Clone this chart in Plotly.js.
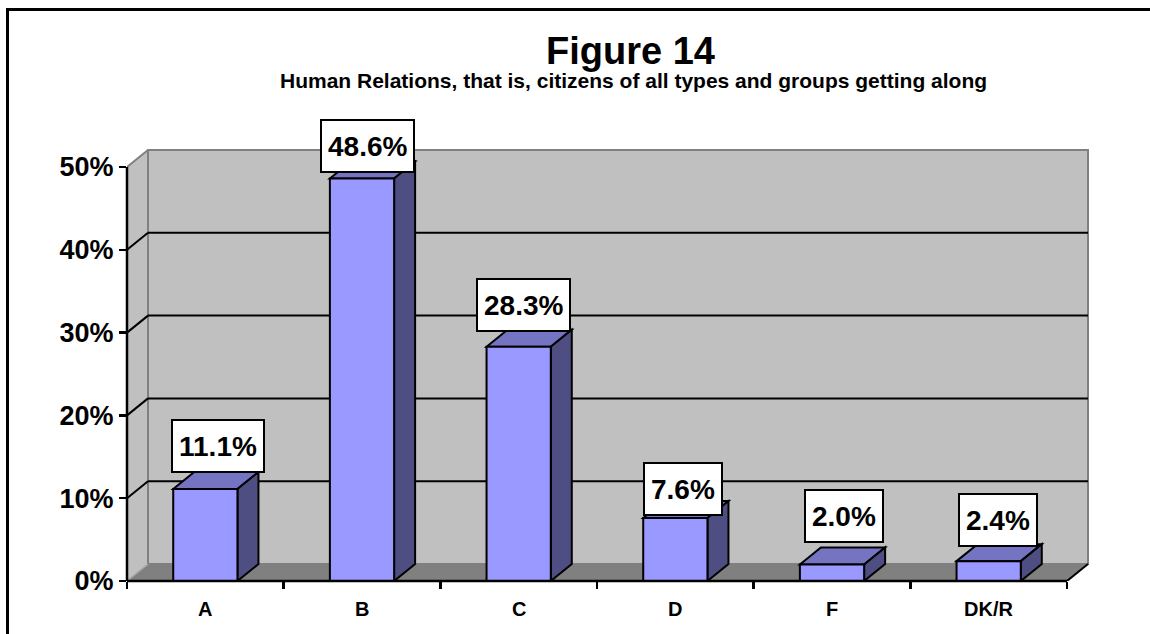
<!DOCTYPE html>
<html>
<head>
<meta charset="utf-8">
<script src="https://cdn.plot.ly/plotly-3.0.1.min.js"></script>
<style>
  html, body { margin: 0; padding: 0; background: #ffffff; overflow: hidden; }
  #wrap { position: relative; width: 1150px; height: 634px; overflow: hidden; }
  #chart { position: absolute; left: 0; top: 0; width: 1150px; height: 634px; }
  /* outer frame of the figure; its right and bottom edges lie past the page */
  #frame { position: absolute; left: 6px; top: 7.5px; width: 1400px; height: 900px;
           border-left: 3px solid #000; border-top: 3px solid #000; pointer-events: none; }
</style>
</head>
<body>
<div id="wrap">
  <div id="chart"></div>
  <div id="frame"></div>
</div>
<script>
// Grades given for human relations among citizens of all types and groups
const categories = ['A', 'B', 'C', 'D', 'F', 'DK/R'];
const shares = [11.1, 48.6, 28.3, 7.6, 2.0, 2.4];
const percentTicks = [0, 10, 20, 30, 40, 50];

// Pixel nudges (right, up) of each value box from the top front edge of its bar
const labelShiftX = [13, 5, 5, 8, 12, 9];
const labelShiftY = [16, 6, 15, 2, 21, 14];

// ---- page geometry (pixels) ----
const W = 1150, H = 634;
const ORIGIN = { x: 127, y: 581 };          // front-left corner of the floor
const PX_PER_CAT = 156.7, PX_PER_PCT = 8.28;
const DEPTH_PX = { x: 21, y: 17 };          // oblique depth of walls and bars
const PAD = 4;

const FONT = 'Liberation Sans, Arial, Helvetica, sans-serif';
const WALL = '#c0c0c0', FLOOR = '#808080', EDGE = '#808080';
const BAR_FRONT = '#9999ff', BAR_TOP = '#7474c2', BAR_SIDE = '#4e4e82';

const n = categories.length;
const yMax = percentTicks[percentTicks.length - 1];
const dx = DEPTH_PX.x / PX_PER_CAT;
const dy = DEPTH_PX.y / PX_PER_PCT;
const barWidth = 0.41;

const xRange = [-0.5, n - 0.5 + dx + PAD / PX_PER_CAT];
const yRange = [0, yMax + dy + PAD / PX_PER_PCT];
const plotW = (xRange[1] - xRange[0]) * PX_PER_CAT;
const plotH = (yRange[1] - yRange[0]) * PX_PER_PCT;
const margin = { l: ORIGIN.x, b: H - ORIGIN.y, pad: 0 };
margin.r = W - margin.l - plotW;
margin.t = H - margin.b - plotH;

const paperX = px => (px - margin.l) / plotW;
const paperY = py => (H - margin.b - py) / plotH;
const path = pts => 'M' + pts.map(p => p[0] + ',' + p[1]).join('L') + 'Z';

const xL = -0.5, xR = n - 0.5;
const shapes = [];
const below = s => shapes.push(Object.assign({ layer: 'below', xref: 'x', yref: 'y' }, s));

// side wall, back wall and floor
below({ type: 'path', path: path([[xL, 0], [xL, yMax], [xL + dx, yMax + dy], [xL + dx, dy]]),
        fillcolor: WALL, line: { width: 0 } });
below({ type: 'rect', x0: xL + dx, x1: xR + dx, y0: dy, y1: yMax + dy,
        fillcolor: WALL, line: { color: EDGE, width: 2 } });
below({ type: 'path', path: path([[xL, 0], [xR, 0], [xR + dx, dy], [xL + dx, dy]]),
        fillcolor: FLOOR, line: { width: 0 } });

// gridlines across the back wall and down the side wall
percentTicks.slice(1, -1).forEach(v => {
  below({ type: 'line', x0: xL + dx, x1: xR + dx, y0: v + dy, y1: v + dy, line: { color: '#000', width: 2 } });
  below({ type: 'line', x0: xL, x1: xL + dx, y0: v, y1: v + dy, line: { color: '#000', width: 2 } });
});
below({ type: 'line', x0: xL, x1: xL + dx, y0: yMax, y1: yMax + dy, line: { color: EDGE, width: 2 } });
below({ type: 'line', x0: xL, x1: xL + dx, y0: 0, y1: dy, line: { color: '#a8a8a8', width: 1.5 } });
below({ type: 'line', x0: xR, x1: xR + dx, y0: 0, y1: dy, line: { color: '#000', width: 2 } });

// top and side faces of each bar
shares.forEach((v, i) => {
  const a = i - barWidth / 2, b = i + barWidth / 2;
  below({ type: 'path', path: path([[a, v], [a + dx, v + dy], [b + dx, v + dy], [b, v]]),
          fillcolor: BAR_TOP, line: { color: '#000', width: 2 } });
  below({ type: 'path', path: path([[b, 0], [b + dx, dy], [b + dx, v + dy], [b, v]]),
          fillcolor: BAR_SIDE, line: { color: '#000', width: 2 } });
});

// front axis lines
shapes.push({ type: 'line', layer: 'above', xref: 'x', yref: 'paper', x0: xL, x1: xR, y0: 0, y1: 0,
              line: { color: '#000', width: 2.5 } });
shapes.push({ type: 'line', layer: 'above', xref: 'paper', yref: 'y', x0: 0, x1: 0, y0: 0, y1: yMax,
              line: { color: '#000', width: 2.5 } });

const annotations = [];

// titles
annotations.push({ xref: 'paper', yref: 'paper', x: paperX(631), y: paperY(51),
  xanchor: 'center', yanchor: 'middle', showarrow: false, text: 'Figure 14',
  font: { family: FONT, size: 38, weight: 'bold', color: '#000' } });
annotations.push({ xref: 'paper', yref: 'paper', x: paperX(634), y: paperY(81),
  xanchor: 'center', yanchor: 'middle', showarrow: false,
  text: 'Human Relations, that is, citizens of all types and groups getting along',
  font: { family: FONT, size: 21, weight: 'bold', color: '#000' } });

// category names under the floor
categories.forEach((c, i) => {
  annotations.push({ xref: 'x', yref: 'y', x: i, y: 0, yshift: -28, xanchor: 'center', yanchor: 'middle',
    showarrow: false, text: c, font: { family: FONT, size: 20, weight: 'bold', color: '#000' } });
});

// value boxes above the bars
shares.forEach((v, i) => {
  annotations.push({ xref: 'x', yref: 'y', x: i, y: v, xshift: labelShiftX[i], yshift: labelShiftY[i],
    xanchor: 'center', yanchor: 'bottom', showarrow: false, text: v.toFixed(1) + '%',
    bgcolor: '#ffffff', bordercolor: '#000000', borderwidth: 2, borderpad: 6, height: 38,
    font: { family: FONT, size: 28, weight: 'bold', color: '#000' } });
});

const boundaries = Array.from({ length: n + 1 }, (_, k) => k - 0.5);

const data = [{
  type: 'bar',
  x: categories.map((_, i) => i),
  y: shares,
  width: barWidth,
  marker: { color: BAR_FRONT, line: { color: '#000', width: 2 } },
  cliponaxis: false,
  hoverinfo: 'skip',
  showlegend: false
}];

const layout = {
  width: W, height: H,
  margin: margin,
  paper_bgcolor: '#ffffff',
  plot_bgcolor: 'rgba(0,0,0,0)',
  showlegend: false,
  xaxis: {
    range: xRange, autorange: false, fixedrange: true,
    tickmode: 'array', tickvals: boundaries, showticklabels: false,
    ticks: 'outside', ticklen: 7, tickwidth: 2.5, tickcolor: '#000',
    showgrid: false, zeroline: false, showline: false, automargin: false
  },
  yaxis: {
    range: yRange, autorange: false, fixedrange: true,
    tickmode: 'array', tickvals: percentTicks, ticktext: percentTicks.map(v => v + '%'),
    ticks: 'outside', ticklen: 7, tickwidth: 2.5, tickcolor: '#000',
    tickfont: { family: FONT, size: 27, weight: 'bold', color: '#000' },
    showgrid: false, zeroline: false, showline: false, automargin: false
  },
  shapes: shapes,
  annotations: annotations
};

Plotly.newPlot('chart', data, layout, { staticPlot: true, displayModeBar: false });
</script>
</body>
</html>
